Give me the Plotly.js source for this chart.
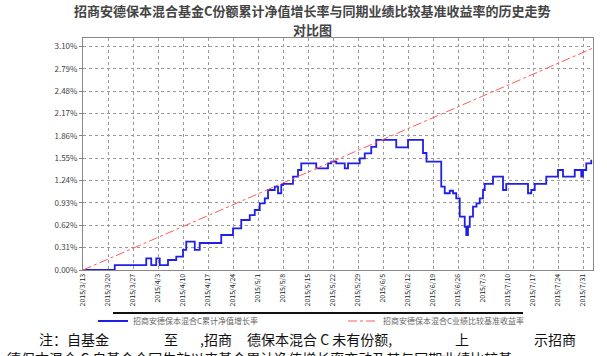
<!DOCTYPE html>
<html>
<head>
<meta charset="utf-8">
<script src="https://cdn.plot.ly/plotly-3.0.1.min.js"></script>
<style>html,body{margin:0;padding:0;background:#fff;}#chart{width:607px;height:356px;}</style>
</head>
<body>
<div id="chart"></div>
<script>
// Tick dates (category positions 0..20)
const tickLabels = ["2015/3/13","2015/3/20","2015/3/27","2015/4/3","2015/4/10","2015/4/17","2015/4/24","2015/5/1","2015/5/8","2015/5/15","2015/5/22","2015/5/29","2015/6/5","2015/6/12","2015/6/19","2015/6/26","2015/7/3","2015/7/10","2015/7/17","2015/7/24","2015/7/31"];
const tickPos = [0,1,2,3,4,5,6,7,8,9,10,11,12,13,14,15,16,17,18,19,20];

// Fund C cumulative NAV growth (%)
const navX = [0,1.27,2.53,2.73,2.93,3.07,3.40,3.73,4.0,4.13,4.47,4.67,5.53,6.0,6.33,6.67,6.87,7.07,7.27,7.4,7.67,7.8,7.93,8.0,8.4,8.6,8.73,9.33,9.8,9.93,10.13,10.47,10.6,11.07,11.27,11.53,11.73,12.53,13.0,13.6,13.74,14.33,14.47,14.67,14.8,14.93,15.07,15.27,15.33,15.4,15.47,15.6,15.74,15.87,16.0,16.07,16.4,16.8,16.93,17.8,17.93,18.07,18.53,19.0,19.2,19.67,19.93,20.0,20.13,20.33];
const navY = [0,0.069,0.162,0.069,0.162,0.069,0.139,0.185,0.278,0.393,0.278,0.375,0.486,0.579,0.694,0.763,0.833,0.926,0.995,1.11,1.156,1.065,1.18,1.194,1.295,1.388,1.481,1.411,1.481,1.503,1.481,1.411,1.481,1.55,1.62,1.71,1.805,1.703,1.805,1.624,1.503,1.156,1.065,1.10,1.065,0.995,0.74,0.60,0.486,0.60,0.74,0.879,0.926,0.995,1.11,1.194,1.295,1.11,1.194,1.065,1.11,1.194,1.295,1.388,1.295,1.388,1.295,1.388,1.481,1.53];

// Benchmark return (%)
const benchX = [0,5,10,15,20.4];
const benchY = [0,0.755,1.51,2.265,3.08];

const yTicks = [0,0.31,0.62,0.93,1.24,1.55,1.86,2.17,2.48,2.79,3.10];
const yTickText = ["0.00%","0.31%","0.62%","0.93%","1.24%","1.55%","1.86%","2.17%","2.48%","2.79%","3.10%"];

const seriesNames = ["招商安德保本混合C累计净值增长率","招商安德保本混合C业绩比较基准收益率"];

const traces = [
  {x: navX, y: navY, type: "scatter", mode: "lines", name: seriesNames[0],
   line: {color: "#1f1fe6", width: 1.8, shape: "hv"}},
  {x: benchX, y: benchY, type: "scatter", mode: "lines", name: seriesNames[1],
   line: {color: "#ff5a5a", width: 1, dash: "dashdot"}}
];

const font = "'Noto Sans CJK SC', 'Noto Sans', sans-serif";
const px = v => (v - 83) / 510;      // helper: pixel x -> paper x
const py = v => (270 - v) / 232;     // helper: pixel y -> paper y
const note = (t, x, y) => ({xref: "paper", yref: "paper", x: px(x), y: py(y), xanchor: "left", yanchor: "middle",
  showarrow: false, text: t, font: {size: 14, color: "#111", family: font}});
const titleLine = (t, y) => ({xref: "paper", yref: "paper", x: px(312), y: py(y), xanchor: "center", yanchor: "middle",
  showarrow: false, text: "<b>" + t + "</b>", font: {size: 13, color: "#444", family: font}});

const layout = {
  width: 607, height: 356,
  margin: {l: 83, r: 14, t: 38, b: 86},
  paper_bgcolor: "#ffffff", plot_bgcolor: "#ffffff",
  font: {family: font, color: "#333"},
  showlegend: true,
  legend: {orientation: "h", x: px(93), y: py(321), xanchor: "left", yanchor: "middle",
           font: {size: 8, color: "#666"}, itemwidth: 30, entrywidth: 205, entrywidthmode: "pixels",
           bgcolor: "rgba(0,0,0,0)", tracegroupgap: 0},
  xaxis: {range: [0, 20.4], tickvals: tickPos, ticktext: tickLabels, tickangle: -90,
          tickfont: {size: 7, color: "#222"}, showgrid: true, gridcolor: "#9a9a9a",
          griddash: "dot", gridwidth: 1, zeroline: false, showline: true, mirror: true,
          linecolor: "#888", linewidth: 1, ticks: "", fixedrange: true},
  yaxis: {range: [0, 3.22], tickvals: yTicks, ticktext: yTickText,
          tickfont: {size: 8, color: "#444"}, showgrid: true, gridcolor: "#9a9a9a",
          griddash: "dot", gridwidth: 1, zeroline: false, showline: true, mirror: true,
          linecolor: "#888", linewidth: 1, ticks: "outside", ticklen: 3, tickcolor: "#888"},
  shapes: [
    {type: "line", xref: "paper", yref: "paper", x0: px(113), x1: px(523), y0: py(313), y1: py(313),
     line: {color: "#111", width: 2}}
  ],
  annotations: [
    titleLine("招商安德保本混合基金C份额累计净值增长率与同期业绩比较基准收益率的历史走势", 10),
    titleLine("对比图", 29),
    note("注：自基金", 37, 339),
    note("至", 162, 339),
    note(",招商", 198, 339),
    note("德保本混合 C 未有份额,", 245, 339),
    note("上", 453, 339),
    note("示招商", 532, 339),
    note("德保本混合 C 自基金合同生效以来基金累计净值增长率变动及其与同期业绩比较基", 5, 358)
  ]
};

Plotly.newPlot("chart", traces, layout, {displayModeBar: false, staticPlot: true});
</script>
</body>
</html>
